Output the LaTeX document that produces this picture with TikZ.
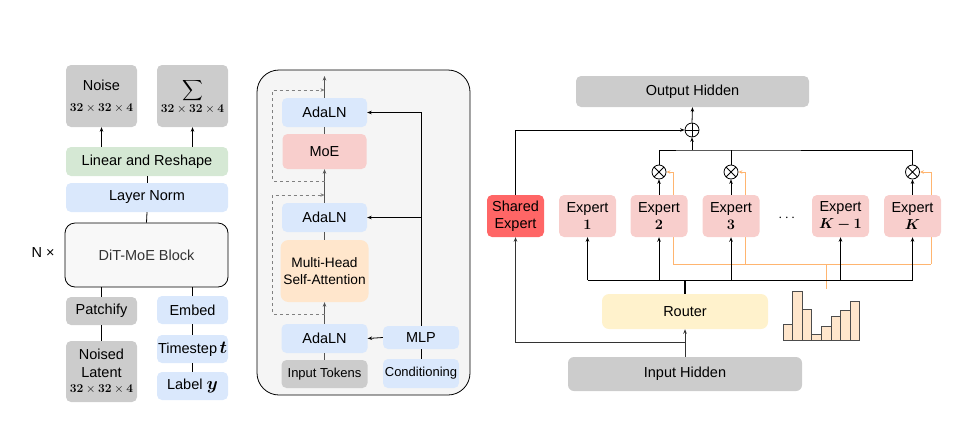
\RequirePackage{fix-cm}
\documentclass[tikz,border=0pt]{standalone}
\usepackage[no-math]{fontspec}
\setmainfont{Liberation Sans}
\usepackage{amsmath,bm}
\usetikzlibrary{arrows.meta, positioning, backgrounds}

\definecolor{boxgray}{HTML}{CCCCCC}
\definecolor{boxgreen}{HTML}{D5E8D4}
\definecolor{boxblue}{HTML}{DAE8FC}
\definecolor{boxred}{HTML}{F8CECC}
\definecolor{boxorange}{HTML}{FFE6CC}
\definecolor{boxyellow}{HTML}{FFF2CC}
\definecolor{sharedred}{HTML}{FF6666}
\definecolor{panelfill}{HTML}{F5F5F5}
\definecolor{blockfill}{HTML}{F8F8F8}
\definecolor{linegray}{HTML}{555555}
\definecolor{dashgray}{HTML}{808080}
\definecolor{gateorange}{HTML}{FFB570}

\newcommand{\fsmain}{\fontsize{14.5}{17.5}\selectfont}
\newcommand{\fsmid}{\fontsize{13.7}{17.5}\selectfont}
\newcommand{\fssmall}{\fontsize{13}{15}\selectfont}
\newcommand{\dimlab}{{\fontsize{12}{14}\selectfont$\mathbf{32\times32\times4}$}}
\newcommand{\bigvar}[1]{{\fontsize{18}{18}\selectfont$\boldsymbol{#1}$}}

\tikzset{
  blk/.style={rounded corners=5pt, inner sep=1pt, align=center, font=\fsmain},
  graybox/.style={blk, fill=boxgray},
  greenbox/.style={blk, fill=boxgreen},
  bluebox/.style={blk, fill=boxblue},
  redbox/.style={blk, fill=boxred},
  expertbox/.style={redbox, minimum width=57, minimum height=42},
  arr/.style={-{Stealth[length=4.5pt,width=3.5pt]}, line width=0.8pt},
  link/.style={line width=0.8pt},
  mainln/.style={line width=1.2pt, draw=linegray},
  resid/.style={dashed, draw=dashgray, line width=0.8pt, -{Stealth[length=4pt,width=3.5pt]}},
  gate/.style={draw=gateorange, line width=0.8pt},
  opnode/.style={circle, draw, minimum size=14pt, inner sep=0pt, line width=0.8pt, fill=white},
  oplus/.style={opnode, path picture={\draw (path picture bounding box.north) -- (path picture bounding box.south)
      (path picture bounding box.west) -- (path picture bounding box.east);}},
  otimes/.style={opnode, path picture={\draw (path picture bounding box.north west) -- (path picture bounding box.south east)
      (path picture bounding box.south west) -- (path picture bounding box.north east);}},
  histbar/.style={draw=black!70, fill=boxorange, line width=0.8pt},
}

\begin{document}
\begin{tikzpicture}[x=1pt, y=-1pt]
\useasboundingbox (0,0) rectangle (973,429);

% Left: DiT-MoE overview
\node[graybox, minimum width=71, minimum height=62] (noise) at (101.5,96) {Noise\\[3pt]\dimlab};
\node[graybox, minimum width=71, minimum height=62] (sigma) at (192.5,96) {$\displaystyle\sum$\\[1pt]\dimlab};
\node[greenbox, minimum width=162, minimum height=29] (linear) at (147,161.5) {Linear and Reshape};
\node[bluebox, minimum width=162, minimum height=29] (lnorm) at (147,197.5) {Layer Norm};
\node[blk, draw, fill=blockfill, rounded corners=10pt, line width=0.8pt,
      minimum width=163, minimum height=64, text=black!80] (dit) at (146.5,255) {DiT-MoE Block};
\node[font=\fsmain] (ntimes) at (43,253) {N ×};
\node[graybox, minimum width=71, minimum height=28] (patch) at (101.5,311) {Patchify};
\node[bluebox, minimum width=71, minimum height=28] (embed) at (192.5,310) {Embed};
\node[graybox, minimum width=71, minimum height=61] (latent) at (101.5,371.5) {Noised\\Latent\\[-2pt]\dimlab};
\node[bluebox, minimum width=71, minimum height=28] (tstep) at (192.5,349) {Timestep\,\bigvar{t}};
\node[bluebox, minimum width=71, minimum height=28] (label) at (192.5,386) {Label \bigvar{y}};

\draw[arr] (linear.north -| noise) -- (noise.south);
\draw[arr] (linear.north -| sigma) -- (sigma.south);
\draw[link] (linear.south) -- (lnorm.north);
\draw[link] (lnorm.south) -- (dit.north);
\draw[link] (dit.south -| patch) -- (patch.north);
\draw[link] (dit.south -| embed) -- (embed.north);
\draw[link] (patch.south) -- (latent.north);
\draw[link] (embed.south) -- (tstep.north);
\draw[link] (tstep.south) -- (label.north);

% Middle: DiT-MoE block detail
\draw[line width=0.8pt, fill=panelfill, rounded corners=22pt] (257,70) rectangle (470,395);
\node[bluebox, minimum width=85, minimum height=29] (adatop) at (324.5,112.5) {AdaLN};
\node[redbox, minimum width=84, minimum height=35] (moe) at (324.5,151.5) {MoE};
\node[bluebox, minimum width=85, minimum height=29] (adamid) at (324.5,217.5) {AdaLN};
\node[blk, fill=boxorange, rounded corners=8pt, font=\fsmid, minimum width=88, minimum height=62] (mhsa) at (324.5,271) {Multi-Head\\Self-Attention};
\node[bluebox, minimum width=86, minimum height=29] (adabot) at (324.5,338.5) {AdaLN};
\node[graybox, font=\fssmall, minimum width=86, minimum height=28] (tokens) at (324.5,374) {Input Tokens};
\node[bluebox, minimum width=76, minimum height=23] (mlp) at (421,337.5) {MLP};
\node[bluebox, font=\fssmall, minimum width=76, minimum height=29] (cond) at (421,373.5) {Conditioning};
\coordinate (blkout) at (324.5,76);
\coordinate (res1a) at (324.5,314);
\coordinate (res1b) at (324.5,195);
\coordinate (res2a) at (324.5,181);
\coordinate (res2b) at (324.5,90);

\draw[mainln] (tokens.north) -- (adabot.south);
\draw[mainln, arr, draw=linegray] (adabot.north) -- (mhsa.south);
\draw[mainln] (mhsa.north) -- (adamid.south);
\draw[mainln, arr, draw=linegray] (adamid.north) -- (moe.south);
\draw[mainln] (moe.north) -- (adatop.south);
\draw[mainln, arr, draw=linegray] (adatop.north) -- (blkout);
\draw[resid] (res1a) -- ++(-52,0) |- (res1b);
\draw[resid] (res2a) -- ++(-52,0) |- (res2b);

\draw[link] (cond.north) -- (mlp.south);
\draw[arr] (mlp.west) -- (adabot.east);
\draw[arr] (mlp.north) |- (adatop.east);
\draw[arr] (mlp.north |- adamid.east) -- (adamid.east);

% Right: MoE layer
\node[graybox, minimum width=233, minimum height=31] (outh) at (692.5,91.5) {Output Hidden};
\node[oplus] (sum) at (692,130) {};
\node[blk, fill=sharedred, minimum width=57, minimum height=42] (shared) at (515.5,216) {Shared\\Expert};
\foreach \n/\x/\lab in {e1/587.5/\mathbf{1}, e2/659/\mathbf{2}, e3/731/\mathbf{3},
                        e4/840.5/\boldsymbol{K-1}, e5/912.5/\boldsymbol{K}}
  \node[expertbox] (\n) at (\x,216) {Expert\\$\lab$};
\node[font=\fsmain] (dots) at (788,218.5) {$\cdots$};
\foreach \n in {e2,e3,e5}
  \node[otimes] (o\n) at (\n.center |- 0,172) {};
\node[blk, fill=boxyellow, rounded corners=7pt, minimum width=166, minimum height=35] (router) at (685,311.5) {Router};
\node[graybox, rounded corners=6pt, minimum width=234, minimum height=34] (inh) at (685,374) {Input Hidden};
\coordinate (topbus) at (692,150);
\coordinate (lowbus) at (685,280);
\coordinate (split) at (685,342);

\draw[arr] (sum.north) -- (outh.south);
\draw[arr] (shared.north) |- (sum.west);
\draw[link] (oe2.north) |- (topbus) -| (oe5.north);
\draw[link] (oe3.north) -- (oe3.north |- topbus);
\draw[arr] (topbus) -- (sum.south);
\foreach \n in {e2,e3,e5}
  \draw[arr] (\n.north) -- (o\n.south);

\draw[line width=1.8pt] (router.north) -- (lowbus);
\draw[link] (lowbus -| e1) -- (lowbus -| e5);
\foreach \n in {e1,e2,e3,e4,e5}
  \draw[arr] (lowbus -| \n) -- (\n.south);
\draw[arr, draw=black!80] (inh.north) -- (router.south);
\draw[arr, draw=black!80] (split) -| (shared.south);

% routing weights
\foreach \h [count=\i] in {324,291,309,334,326,316,310,301}
  \draw[histbar] ({783+(\i-1)*9.6},340) rectangle ++(9.6,\h-340);

\begin{pgfonlayer}{background}
  \coordinate (g2) at (673,264);
  \coordinate (g3) at (745,264);
  \coordinate (g5) at (931,264);
  \draw[gate, -{Stealth[length=4pt,width=3.5pt]}] (g2) |- (oe2.east);
  \draw[gate, -{Stealth[length=4pt,width=3.5pt]}] (g3) |- (oe3.east);
  \draw[gate, -{Stealth[length=4pt,width=3.5pt]}] (g5) |- (oe5.east);
  \draw[gate] (g2) -- (g5);
  \draw[gate] (826,264) -- (826,289);
\end{pgfonlayer}
\end{tikzpicture}
\end{document}
